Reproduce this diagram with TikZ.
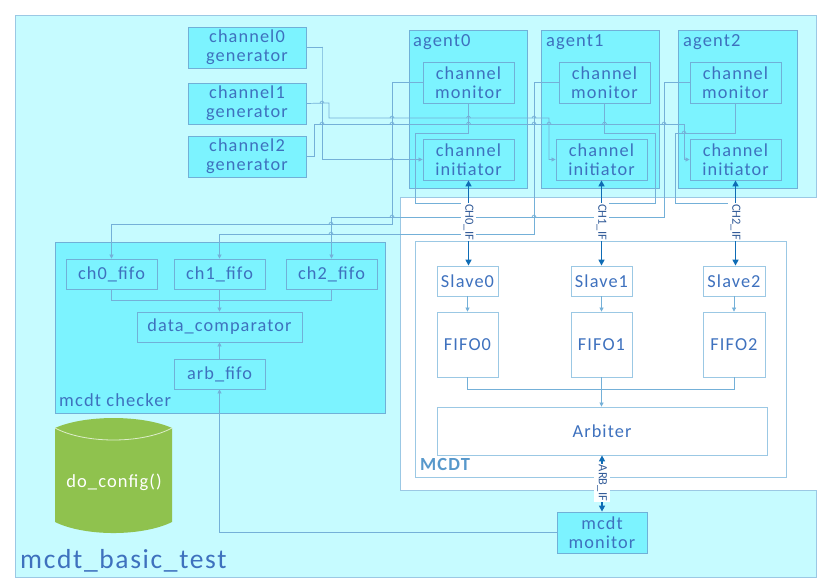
\documentclass[tikz,border=0pt]{standalone}
\usepackage{fontspec}
\setmainfont[LetterSpace=6]{Carlito}
\usetikzlibrary{arrows.meta}
\definecolor{outerc}{HTML}{C6FBFF}
\definecolor{innerc}{HTML}{7CF3FF}
\definecolor{edgec}{HTML}{70B0D8}
\definecolor{linkc}{HTML}{74B0D8}
\definecolor{textc}{HTML}{3E71BE}
\definecolor{busc}{HTML}{0F6CB5}
\definecolor{greenc}{HTML}{8FC24E}
\tikzset{
 x=1pt,y=-1pt,
 cbox/.style={draw=edgec,line width=.8pt,fill=innerc,text=textc,align=center,font=\fontsize{18.3}{19}\selectfont,inner sep=0pt},
 wbox/.style={cbox,fill=white,draw=edgec!70!white},
 fbox/.style={cbox,minimum width=91pt,minimum height=30pt},
 genbox/.style={cbox,minimum width=118pt,minimum height=41pt},
 monbox/.style={cbox,minimum width=91pt,minimum height=41pt},
 lbl/.style={text=textc,anchor=west,inner sep=0pt,font=\fontsize{18.5}{19}\selectfont},
 link/.style={draw=linkc,line width=.7pt},
 linka/.style={link,-{Triangle[width=4pt,length=4pt]}},
 bus/.style={draw=busc,line width=1.4pt,{Triangle[width=6pt,length=6pt]}-{Triangle[width=6pt,length=6pt]}},
 buslabel/.style={fill=white,text=textc!80!black,rotate=-90,inner xsep=1pt,inner ysep=3pt,font=\fontsize{12.5}{14}\selectfont\addfontfeature{LetterSpace=0}},
 bump/.pic={\draw[link] (-2,0) .. controls (-1,-2.6) and (1,-2.6) .. (2,0);}
}
\begin{document}
\begin{tikzpicture}
\useasboundingbox (0,0) rectangle (826,585);
% test environment
\draw[draw=edgec!70!white,fill=outerc,line width=.9pt] (15,15) rectangle (816,577);
\fill[white] (400.4,197) rectangle (826,490);
\draw[edgec!70!white,line width=.9pt] (826,197) -- (400,197) -- (400,490) -- (826,490);
\fill[white] (817,196) rectangle (826,491);
% agents
\node[cbox,minimum width=118pt,minimum height=158pt] (agent0) at (468,109) {};
\node[cbox,minimum width=118pt,minimum height=158pt] (agent1) at (600,109) {};
\node[cbox,minimum width=119pt,minimum height=158pt] (agent2) at (737.5,109) {};
\node[lbl] (agent0t) at (413,42) {agent0};
\node[lbl] (agent1t) at (546,42) {agent1};
\node[lbl] (agent2t) at (683,42) {agent2};
% generators
\node[genbox] (gen0) at (247,47.5) {channel0\\generator};
\node[genbox] (gen1) at (247,103.5) {channel1\\generator};
\node[genbox] (gen2) at (247,156.5) {channel2\\generator};
% monitors, initiators
\node[monbox] (mon0) at (468.5,82.5) {channel\\monitor};
\node[monbox] (init0) at (468.5,159.5) {channel\\initiator};
\node[monbox] (mon1) at (604.5,82.5) {channel\\monitor};
\node[monbox] (init1) at (601.5,159.5) {channel\\initiator};
\node[monbox] (mon2) at (735.5,82.5) {channel\\monitor};
\node[monbox] (init2) at (735.5,159.5) {channel\\initiator};
% checker
\node[cbox,minimum width=330pt,minimum height=171pt] (checker) at (220,327.5) {};
\node[fbox] (ch0) at (111.5,274) {ch0\_fifo};
\node[fbox] (ch1) at (219.5,274) {ch1\_fifo};
\node[fbox] (ch2) at (331.5,274) {ch2\_fifo};
\node[fbox,minimum width=165pt] (cmp) at (219.5,327) {data\_comparator};
\node[fbox] (arb) at (219.5,374) {arb\_fifo};
\node[lbl] (checkt) at (59,400.5) {mcdt checker};
% MCDT
\node[wbox,minimum width=371pt,minimum height=236pt] (mcdt) at (600.5,359) {};
\node[wbox,minimum width=61pt,minimum height=30pt] (s0) at (467.5,281) {Slave0};
\node[wbox,minimum width=61pt,minimum height=30pt] (s1) at (601.5,281) {Slave1};
\node[wbox,minimum width=62pt,minimum height=30pt] (s2) at (734,281) {Slave2};
\node[wbox,minimum width=61pt,minimum height=65pt] (f0) at (467.5,344.5) {FIFO0};
\node[wbox,minimum width=61pt,minimum height=65pt] (f1) at (601.5,344.5) {FIFO1};
\node[wbox,minimum width=62pt,minimum height=65pt] (f2) at (734,344.5) {FIFO2};
\node[wbox,minimum width=330pt,minimum height=48pt] (arbiter) at (602,431) {Arbiter};
\node[anchor=west,inner sep=0pt,text=busc!70!white,font=\fontsize{18.5}{19}\selectfont\bfseries] (mcdtt) at (420,464.5) {MCDT};
\node[genbox,minimum width=90pt] (mm) at (602,532.5) {mcdt\\monitor};
% cylinder
\fill[greenc] (55,428) .. controls (85,414.7) and (142,414.7) .. (172,428) -- (172,522) .. controls (142,536.7) and (85,536.7) .. (55,522) -- cycle;
\draw[white!70!greenc,line width=.8pt] (55,428) .. controls (85,444) and (142,444) .. (172,428);
\node[text=white,inner sep=0pt,font=\fontsize{18.5}{19}\selectfont] (cfg) at (114,482) {do\_config()};
\node[anchor=west,inner sep=0pt,text=textc,font=\fontsize{27.5}{30}\selectfont] (title) at (20,561) {mcdt\_basic\_test};
% generator connectors
\coordinate (g0c) at (322,47);
\coordinate (g1c) at (329,103);
\coordinate (g1t) at (549,118);
\coordinate (g2c) at (314,124);
\coordinate (g2t) at (684,124);
\draw[linka] (gen0.east) -| (g0c) |- (init0.west);
\draw[linka] (gen1.east) -- (g1c) |- (g1t) |- (init1.west);
\draw[linka] (gen2.east) -| (g2c) -- (g2t) |- (init2.west);
% monitor connectors
\coordinate (m0a) at (392,224);
\coordinate (m1a) at (534,234);
\coordinate (m2a) at (664,217);
\draw[linka] (mon0.west) -| (m0a) -| (ch0.north);
\draw[linka] (mon1.west) -| (m1a) -| (ch1.north);
\draw[linka] (mon2.west) -| (m2a) -| (ch2.north);
\coordinate (m0b) at (415,133);
\coordinate (m1b) at (655,133);
\coordinate (m2b) at (675,133);
\coordinate (m0r) at (468.5,203);
\coordinate (m1r) at (601.5,203);
\coordinate (m2r) at (735.5,203);
\draw[link] (mon0.south) |- (m0b) |- (m0r);
\draw[link] (mon1.south) |- (m1b) |- (m1r);
\draw[link] (mon2.south) |- (m2b) |- (m2r);
% crossings
\foreach \p in {(322,103),(322,124),(392,118),(392,124),(392,160),(468.5,118),(468.5,124),(534,118),(534,124),(549,124),(534,217),(392,217),(331,224),(331,234),(604.5,124),(664,124),(684,133),(468.5,217),(601.5,217)}
  \path \p pic {bump};
% checker internals
\coordinate (jn) at (219.5,300);
\draw[link] (ch0.south) |- (jn);
\draw[link] (ch2.south) |- (jn);
\draw[linka] (ch1.south) -- (cmp.north);
\draw[linka] (arb.north) -- (cmp.south);
\draw[linka] (mm.west) -| (arb.south);
% MCDT internals
\foreach \a/\b in {s0/f0,s1/f1,s2/f2} \draw[linka] (\a.south) -- (\b.north);
\coordinate (jf) at (601.5,389);
\draw[link] (f0.south) |- (jf);
\draw[link] (f2.south) |- (jf);
\draw[linka] (f1.south) -- (arbiter.north -| f1.south);
% buses
\draw[bus] (init0.south) -- (s0.north -| init0.south) node[buslabel,pos=.49] (l0) {CH0\_IF};
\draw[bus] (init1.south) -- (s1.north) node[buslabel,pos=.49] (l1) {CH1\_IF};
\draw[bus] (init2.south) -- (s2.north -| init2.south) node[buslabel,pos=.49] (l2) {CH2\_IF};
\draw[bus] (arbiter.south) -- (mm.north) node[buslabel,pos=.49] (l3) {ARB\_IF};
\end{tikzpicture}
\end{document}
